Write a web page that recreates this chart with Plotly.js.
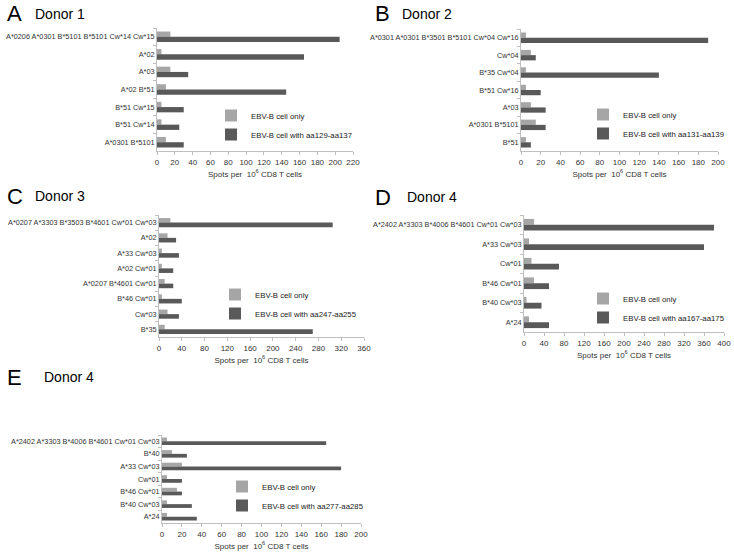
<!DOCTYPE html>
<html>
<head>
<meta charset="utf-8">
<script src="https://cdn.plot.ly/plotly-3.0.1.min.js"></script>
<style>
  body { margin: 0; background: #fff; }
  #plot { width: 734px; height: 556px; }
</style>
</head>
<body>
<div id="plot"></div>
<script>
// Panel A - Donor 1
const catsA = ["A*0206 A*0301 B*5101 B*5101 Cw*14 Cw*15", "A*02", "A*03", "A*02 B*51", "B*51 Cw*15", "B*51 Cw*14", "A*0301 B*5101"];
const onlyA = [15, 5, 15, 10, 5, 5, 10];
const pepA = [205, 165, 35, 145, 30, 25, 30];

// Panel B - Donor 2
const catsB = ["A*0301 A*0301 B*3501 B*5101 Cw*04 Cw*16", "Cw*04", "B*35 Cw*04", "B*51 Cw*16", "A*03", "A*0301 B*5101", "B*51"];
const onlyB = [5, 10, 5, 5, 10, 15, 5];
const pepB = [190, 15, 140, 20, 25, 25, 10];

// Panel C - Donor 3
const catsC = ["A*0207 A*3303 B*3503 B*4601 Cw*01 Cw*03", "A*02", "A*33 Cw*03", "A*02 Cw*01", "A*0207 B*4601 Cw*01", "B*46 Cw*01", "Cw*03", "B*35"];
const onlyC = [20, 15, 5, 5, 10, 5, 15, 10];
const pepC = [305, 30, 35, 25, 25, 40, 35, 270];

// Panel D - Donor 4
const catsD = ["A*2402 A*3303 B*4006 B*4601 Cw*01 Cw*03", "A*33 Cw*03", "Cw*01", "B*46 Cw*01", "B*40 Cw*03", "A*24"];
const onlyD = [20, 10, 15, 20, 5, 10];
const pepD = [380, 360, 70, 50, 35, 50];

// Panel E - Donor 4
const catsE = ["A*2402 A*3303 B*4006 B*4601 Cw*01 Cw*03", "B*40", "A*33 Cw*03", "Cw*01", "B*46 Cw*01", "B*40 Cw*03", "A*24"];
const onlyE = [5, 10, 20, 5, 15, 5, 5];
const pepE = [165, 25, 180, 20, 20, 30, 35];

const letters = ["A", "B", "C", "D", "E"];
const donors = ["Donor 1", "Donor 2", "Donor 3", "Donor 4", "Donor 4"];
const peptides = ["aa129-aa137", "aa131-aa139", "aa247-aa255", "aa167-aa175", "aa277-aa285"];
const xMax = [220, 200, 360, 400, 200];
const xStep = [20, 20, 40, 40, 20];

const panels = [
  {cats: catsA, only: onlyA, pep: pepA},
  {cats: catsB, only: onlyB, pep: pepB},
  {cats: catsC, only: onlyC, pep: pepC},
  {cats: catsD, only: onlyD, pep: pepD},
  {cats: catsE, only: onlyE, pep: pepE}
];

// pixel boxes of each plot area: [left, right, top, bottom]
const W = 734, H = 556;
const boxes = [
  [157, 353, 28, 151],
  [521, 718, 29, 151],
  [159, 364, 215, 337],
  [524, 724, 215, 332],
  [162, 361, 435, 523]
];
// legend text start + first row centre, heading positions
const legendPos = [[252, 114], [624, 113], [256, 293], [624, 297], [263, 485]];
const headPos = [[5, 33, 14], [373, 400, 14], [5, 33, 196], [373, 405, 197], [5, 42, 377]];

const fontFam = "Liberation Sans, Arial, sans-serif";
const LIGHT = "#a6a6a6";
const DARK = "#595959";

let data = [];
let layout = {
  width: W, height: H,
  margin: {l: 0, r: 0, t: 0, b: 0, autoexpand: false},
  paper_bgcolor: "#fff", plot_bgcolor: "#fff",
  barmode: "group",
  bargap: 0.4,
  bargroupgap: 0,
  font: {family: fontFam, color: "#333", size: 8},
  annotations: []
};

panels.forEach((p, i) => {
  const n = i === 0 ? "" : String(i + 1);
  const legName = "legend" + n;
  data.push({
    type: "bar", orientation: "h",
    y: p.cats, x: p.only,
    name: "EBV-B cell only",
    marker: {color: LIGHT},
    xaxis: "x" + n, yaxis: "y" + n,
    legend: legName,
    hoverinfo: "x+y"
  });
  data.push({
    type: "bar", orientation: "h",
    y: p.cats, x: p.pep,
    name: "EBV-B cell with " + peptides[i],
    marker: {color: DARK},
    xaxis: "x" + n, yaxis: "y" + n,
    legend: legName,
    hoverinfo: "x+y"
  });

  const b = boxes[i];
  layout["xaxis" + n] = {
    domain: [b[0] / W, b[1] / W],
    anchor: "y" + n,
    range: [0, xMax[i]],
    dtick: xStep[i],
    tick0: 0,
    showgrid: false, zeroline: false,
    showline: true, linecolor: "#bfbfbf", linewidth: 1,
    ticks: "outside", ticklen: 3, tickcolor: "#bfbfbf",
    tickfont: {size: 8, color: "#333"},
    title: {text: "Spots per  10<sup>6</sup> CD8 T cells", font: {size: 8, color: "#333"}, standoff: 5}
  };
  layout["yaxis" + n] = {
    domain: [1 - b[3] / H, 1 - b[2] / H],
    anchor: "x" + n,
    type: "category",
    autorange: "reversed",
    showgrid: false, zeroline: false,
    showline: true, linecolor: "#bfbfbf", linewidth: 1,
    ticks: "outside", ticklen: 3, tickcolor: "#bfbfbf",
    tickson: "boundaries",
    tickfont: {size: 7.3, color: "#333"}
  };

  const lp = legendPos[i];
  layout[legName] = {
    x: (lp[0] - 41) / W,
    y: 1 - (lp[1] - 13) / H,
    xanchor: "left", yanchor: "top",
    bgcolor: "rgba(0,0,0,0)",
    font: {size: 7.8, color: "#222"},
    traceorder: "normal"
  };

  const hp = headPos[i];
  layout.annotations.push({
    xref: "paper", yref: "paper",
    x: hp[0] / W, y: 1 - hp[2] / H,
    xanchor: "left", yanchor: "middle",
    text: letters[i], showarrow: false,
    font: {size: 22, color: "#000"}
  });
  layout.annotations.push({
    xref: "paper", yref: "paper",
    x: hp[1] / W, y: 1 - hp[2] / H,
    xanchor: "left", yanchor: "middle",
    text: donors[i], showarrow: false,
    font: {size: 14, color: "#000"}
  });
});

Plotly.newPlot("plot", data, layout, {displayModeBar: false, staticPlot: true});
</script>
</body>
</html>
